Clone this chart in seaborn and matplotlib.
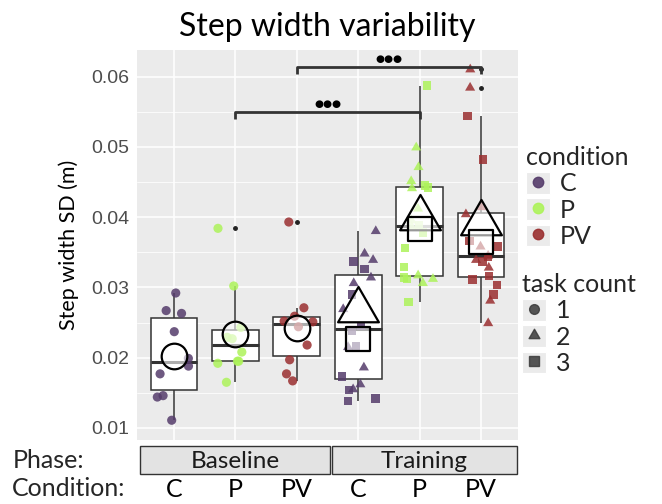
import numpy as np
import pandas as pd
import seaborn as sns
import matplotlib.pyplot as plt
from matplotlib.lines import Line2D
from matplotlib.patches import Rectangle
from matplotlib.path import Path
from matplotlib.ticker import MultipleLocator

np.random.seed(3)

# values (step width SD, m)
groups = ['Baseline C', 'Baseline P', 'Baseline PV', 'Training C', 'Training P', 'Training PV']
conditions = ['C', 'P', 'PV', 'C', 'P', 'PV']
phases = ['Baseline', 'Training']

base_C = [0.0292, 0.0263, 0.0267, 0.0237, 0.0199, 0.0188, 0.0177, 0.0146, 0.0144, 0.0111]
base_P = [0.0384, 0.0302, 0.0243, 0.0229, 0.0208, 0.0195, 0.0192, 0.0195, 0.0165, 0.0227]
base_PV = [0.0393, 0.0271, 0.0259, 0.0252, 0.0244, 0.0218, 0.0197, 0.0177, 0.0167, 0.0251]
train_C_2 = [0.0380, 0.0348, 0.0339, 0.0314, 0.0306, 0.0269, 0.0186, 0.0162, 0.0155, 0.0215]
train_C_3 = [0.0337, 0.0326, 0.0290, 0.0245, 0.0238, 0.0216, 0.0173, 0.0154, 0.0142, 0.0138]
train_P_2 = [0.0499, 0.0471, 0.0451, 0.0441, 0.0317, 0.0312, 0.0306, 0.0386, 0.0395, 0.0412]
train_P_3 = [0.0587, 0.0445, 0.0442, 0.0388, 0.0378, 0.0329, 0.0314, 0.0279, 0.0312, 0.0356]
train_PV_2 = [0.0610, 0.0584, 0.0414, 0.0404, 0.0358, 0.0339, 0.0328, 0.0281, 0.0249, 0.0345]
train_PV_3 = [0.0544, 0.0482, 0.0366, 0.0358, 0.0343, 0.0337, 0.0316, 0.0311, 0.0303, 0.0290]

# significance brackets: (from group, to group, label)
brackets = [('Baseline P', 'Training P', '●●●'), ('Baseline PV', 'Training PV', '●●●')]
bracket_y = [0.0549, 0.0613]

palette = {'C': '#553c6b', 'P': '#adf35a', 'PV': '#9a2f30'}

rows = []
for grp, task, vals in [('Baseline C', 1, base_C), ('Baseline P', 1, base_P), ('Baseline PV', 1, base_PV),
                        ('Training C', 2, train_C_2), ('Training C', 3, train_C_3),
                        ('Training P', 2, train_P_2), ('Training P', 3, train_P_3),
                        ('Training PV', 2, train_PV_2), ('Training PV', 3, train_PV_3)]:
    for v in vals:
        rows.append({'group': grp, 'condition': grp.split()[1], 'task': task, 'sd': v})
df = pd.DataFrame(rows)

sns.set_theme(style='darkgrid')
plt.rcParams['font.family'] = ['Lato', 'DejaVu Sans']
plt.rcParams['axes.facecolor'] = '#ebebeb'
plt.rcParams['grid.color'] = 'white'

fig = plt.figure(figsize=(6.62, 5.04), dpi=100)
ax = fig.add_axes([137 / 662, 1 - 440 / 504, 381 / 662, 390 / 504])

# equilateral triangle centred on its centroid, like R's pch 17
tri = Path([(0, 1), (-0.866, -0.5), (0.866, -0.5), (0, 1)], closed=True)
shapes = {1: 'o', 2: tri, 3: 's'}
pt_size = {1: 6.6, 2: 8.4, 3: 6.0}

sns.boxplot(data=df, x='group', y='sd', order=groups, width=0.76, color='white',
            linecolor='#333333', linewidth=1.1, showcaps=False, ax=ax,
            flierprops={'marker': 'o', 'markersize': 2.5, 'markerfacecolor': '#222222',
                        'markeredgecolor': '#222222'},
            medianprops={'linewidth': 2.2, 'color': '#333333'})

for task in [1, 2, 3]:
    sub = df[df['task'] == task]
    sns.stripplot(data=sub, x='group', y='sd', order=groups, hue='condition', palette=palette,
                  marker=shapes[task], size=pt_size[task], jitter=0.3, alpha=0.85,
                  linewidth=0, legend=False, zorder=3, ax=ax)

# big open markers for the means per group and task count
means = df.groupby(['group', 'task'])['sd'].mean().reset_index()
mean_size = {1: 340, 2: 1150, 3: 310}
for task in [1, 2, 3]:
    m = means[means['task'] == task]
    xpos = [groups.index(g) for g in m['group']]
    ax.scatter(xpos, m['sd'], marker=shapes[task], s=mean_size[task],
               facecolor=(1, 1, 1, 0.6), edgecolor='black', linewidth=1.6, zorder=4)

# brackets
for (g1, g2, lab), yb in zip(brackets, bracket_y):
    x1, x2 = groups.index(g1), groups.index(g2)
    ax.plot([x1, x1, x2, x2], [yb - 0.0009, yb, yb, yb - 0.0009], color='#333333',
            lw=2.0, solid_capstyle='butt', zorder=5)
    ax.text((x1 + x2) / 2, yb + 0.0012, lab, ha='center', va='center', fontsize=7.5,
            family='DejaVu Sans', color='black')

ax.set_xlim(-0.6, 5.6)
ax.set_ylim(0.00829, 0.06377)
ax.yaxis.set_major_locator(MultipleLocator(0.01))
ax.yaxis.set_minor_locator(MultipleLocator(0.005))
ax.grid(which='major', color='white', linewidth=1.1)
ax.grid(which='minor', axis='y', color='white', linewidth=0.55)
for s in ax.spines.values():
    s.set_visible(False)

ax.set_yticks([0.01, 0.02, 0.03, 0.04, 0.05, 0.06])
ax.set_yticklabels(['0.01', '0.02', '0.03', '0.04', '0.05', '0.06'],
                   family='Liberation Sans', fontsize=14, color='#4d4d4d')
ax.set_xticks(range(len(groups)))
ax.set_xticklabels(conditions, fontsize=18, color='black')
ax.tick_params(axis='both', which='major', length=3.5, width=0.9, color='#333333')
ax.tick_params(axis='x', pad=24)
ax.tick_params(axis='y', pad=2)
ax.tick_params(which='minor', length=0)

ax.set_xlabel('')
ax.set_ylabel('Step width SD (m)', fontsize=15.5, color='black', labelpad=9)
ax.set_title('Step width variability', fontsize=23, color='black', pad=10)

# phase strips below the panel
strip_x = [(140, 330), (332, 517)]
for (xa, xb), ph in zip(strip_x, phases):
    fig.add_artist(Rectangle((xa / 662, 1 - 474 / 504), (xb - xa) / 662, 28 / 504,
                             transform=fig.transFigure, facecolor='#e3e3e3',
                             edgecolor='#333333', linewidth=1.0))
    fig.text((xa + xb) / 2 / 662, 1 - 461 / 504, ph, ha='center', va='center',
             fontsize=17.5, color='#1a1a1a')
fig.text(13 / 662, 1 - 461 / 504, 'Phase:', ha='left', va='center', fontsize=18)
fig.text(12 / 662, 1 - 488 / 504, 'Condition:', ha='left', va='center', fontsize=18)

# legends
key_bg = dict(facecolor='#ebebeb', edgecolor='white', linewidth=0.8)
cond_handles = [(Rectangle((0, 0), 1, 1, **key_bg),
                 Line2D([], [], marker='o', ls='', markersize=7.5, color=palette[c], alpha=0.9))
                for c in ['C', 'P', 'PV']]
fig.legend(cond_handles, ['C', 'P', 'PV'], title='condition', loc='upper left',
           bbox_to_anchor=(526 / 662, 1 - 146 / 504), frameon=False, fontsize=18,
           title_fontsize=18, handlelength=0.95, handleheight=0.95, labelspacing=0.12,
           handletextpad=0.4, borderpad=0, borderaxespad=0, alignment='left')
task_handles = [(Rectangle((0, 0), 1, 1, **key_bg),
                 Line2D([], [], marker=shapes[t], ls='', markersize=ms, color='#3a3a3a', alpha=0.85))
                for t, ms in [(1, 7), (2, 9), (3, 6.5)]]
fig.legend(task_handles, ['1', '2', '3'], title='task count', loc='upper left',
           bbox_to_anchor=(522 / 662, 1 - 273 / 504), frameon=False, fontsize=18,
           title_fontsize=18, handlelength=0.95, handleheight=0.95, labelspacing=0.12,
           handletextpad=0.4, borderpad=0, borderaxespad=0, alignment='left')

fig.savefig('out.png', dpi=100)
